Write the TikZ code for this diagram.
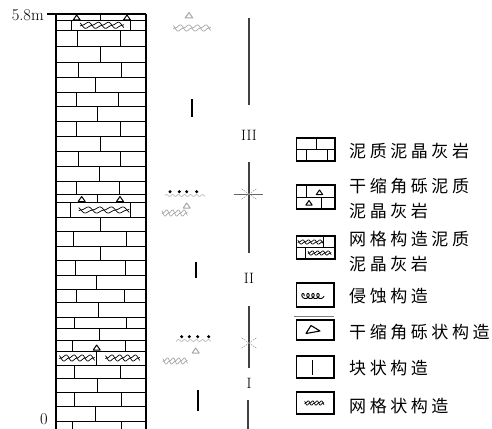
\documentclass[tikz,border=0pt]{standalone}
\usepackage{fontspec}
\newfontfamily\cjk[LetterSpace=21]{Noto Sans CJK SC}

\begin{document}
\begin{tikzpicture}[x=1pt, y=-1pt]
  % Styles
  \tikzset{
    brick/.style={line width=0.7pt},
    wall/.style={line width=1.6pt},
    bar/.style={line width=1.8pt},
    stage/.style={line width=1.8pt, draw=black!75},
    keybox/.style={draw, line width=1.2pt},
    keytext/.style={anchor=west, inner sep=0pt, align=left, font=\cjk\fontsize{17}{25}\selectfont},
    numeral/.style={inner sep=0pt, font=\fontsize{15}{15}\selectfont},
    faint/.style={draw=black!35, line width=0.5pt},
    ray/.style={draw=black!45, line width=0.5pt, dash pattern=on 1.5pt off 1pt},
    netmark/.pic={
      \draw[line width=0.7pt, pic actions] plot[domain=-2:42, samples=61, smooth] (\x, {2.6*sin(\x*18) + 0.9*sin(\x*36)});
      \draw[line width=0.7pt, pic actions] plot[domain=-2:42, samples=61, smooth] (\x, {-2.6*sin(\x*18) + 0.9*sin(\x*36)});
    },
    clast/.pic={\draw[line width=1pt, line join=round, pic actions] (-3.5,0) -- (3.5,0) -- (0,-5) -- cycle;},
    curls/.pic={\draw[line width=0.9pt, pic actions] plot[domain=-90:1350, samples=145, smooth, variable=\t] ({5*\t/360 - 2.3*sin(\t)}, {-2.5*cos(\t)});}
  }
  \useasboundingbox (0,0) rectangle (492,428);

  % Limestone column: courses of bricks
  \foreach \ya/\yb/\xs in {14/20.7/{100}, 20.7/30/{71.7,130.7}, 30/46.7/{77.3,120},
      46.7/62.3/{100}, 62.3/77.7/{78.3,121.7}, 77.7/92.7/{95}, 92.7/106.7/{76,118.3},
      106.7/121/{97.3}, 121/136.7/{76.7,120}, 136.7/151/{100.7}, 151/166/{78.3,120},
      166/181.7/{99.3}, 181.7/194.3/{76,119.3}, 194.3/202.3/{97.3}, 202.3/217/{70.7,130},
      217/231.3/{100}, 231.3/246.3/{73.3,126.7}, 246.3/260/{100}, 260/275/{75,125},
      275/289/{96.7}, 289/302.3/{76,124}, 302.3/317/{98.3}, 317/328/{74,126},
      328/340/{99.3}, 340/351/{72.3,125}, 351/365/{96.7}, 365/378/{74.3,120},
      378/392/{97.3}, 392/406.3/{74,121.7}, 406.3/421.3/{95}, 421.3/432/{72,121.7}}{
    \draw[brick] (56,\yb) -- (146,\yb);
    \foreach \x in \xs \draw[brick] (\x,\ya) -- (\x,\yb);
  }
  \draw[wall] (47,14) -- (146,14);
  \draw[wall] (56,14) -- (56,432);
  \draw[wall] (146,14) -- (146,432);

  % Clasts and network beds in the column
  \pic at (76.7,20) {clast};
  \pic at (127,20) {clast};
  \pic at (82,25.3) {netmark};
  \pic at (81.7,201.5) {clast};
  \pic at (120,201.5) {clast};
  \pic[xscale=1.15] at (81,210) {netmark};
  \pic at (96.7,350) {clast};
  \pic[xscale=0.8] at (61,358) {netmark};
  \pic[xscale=0.78] at (107,358) {netmark};

  % Height marks
  \node[inner sep=0pt, anchor=east, font=\fontsize{16.5}{17}\selectfont] (top) at (44,15.5) {5.8m};
  \node[inner sep=0pt, font=\fontsize{16.5}{17}\selectfont] (base) at (44,419) {0};

  % Structures
  \pic[faint, scale=1.1] at (189,18) {clast};
  \pic[faint, xscale=0.85] at (175,28) {netmark};
  \draw[bar] (191.7,99) -- (191.7,117);
  \foreach \x in {170,179.3,186.7,196.7} \fill (\x,191.7) circle (1.7);
  \draw[faint] plot[domain=165:205, samples=41, smooth] (\x, {195.5+1*sin(\x*60)});
  \pic[faint] at (186.7,208) {clast};
  \pic[faint, xscale=0.58] at (163,213) {netmark};
  \draw[bar] (196,262) -- (196,278);
  \foreach \x in {181.7,189.3,197.7,208.7} \fill (\x,336.7) circle (1.7);
  \draw[faint] plot[domain=176:211, samples=41, smooth] (\x, {340.5+1*sin(\x*60)});
  \pic[faint] at (195.7,353) {clast};
  \pic[faint, xscale=0.56] at (164,361) {netmark};
  \draw[bar] (197.7,390) -- (197.7,410.7);

  % Stages
  \draw[stage] (249,18) -- (249,105);
  \node[numeral] (s3) at (249,135) {III};
  \draw[stage] (249,162) -- (249,253);
  \draw[draw=black!60, line width=0.7pt] (234,194) -- (263,194);
  \foreach \a in {35,145,215,325} \draw[ray] (249,194) -- ++(\a:9);
  \node[numeral] (s2) at (249,278) {II};
  \draw[stage] (249,306) -- (249,368);
  \foreach \a in {35,145,215,325} \draw[ray] (249,343) -- ++(\a:9);
  \node[numeral] (s1) at (249,383) {I};
  \draw[stage] (248,400) -- (248,432);

  % Legend boxes
  \draw[keybox] (296.5,138) rectangle (335,161);
  \draw[brick] (296.5,149.5) -- (335,149.5) (316,138) -- (316,149.5)
    (306,149.5) -- (306,161) (327,149.5) -- (327,161);
  \draw[keybox] (296.5,185) rectangle (335,209);
  \draw[brick] (296.5,197) -- (335,197) (306,185) -- (306,197) (321,197) -- (321,209);
  \pic[scale=0.9] at (319.5,194.5) {clast};
  \pic[scale=0.9] at (309,205) {clast};
  \draw[keybox] (296.5,236) rectangle (335,259);
  \draw[brick] (296.5,247.5) -- (335,247.5) (323,236) -- (323,247.5) (305,247.5) -- (305,259);
  \pic[xscale=0.58, yscale=0.7] at (299,242) {netmark};
  \pic[xscale=0.53, yscale=0.7] at (309,253) {netmark};
  \draw[keybox] (296.5,283) rectangle (334,307);
  \pic at (303,296) {curls};
  \draw[draw=black!50, line width=0.6pt] (294,316) -- (334,316);
  \draw[keybox] (296.5,320) rectangle (334,340);
  \draw[line width=1.1pt, line join=round] (306,333.5) -- (320,331) -- (311,325.5) -- cycle;
  \draw[keybox] (296.5,356) rectangle (334,378);
  \draw[line width=1.1pt] (312.5,360) -- (312.5,375);
  \draw[keybox] (296.5,392) rectangle (334,414);
  \pic[xscale=0.44, yscale=0.7] at (305.5,403) {netmark};

  % Legend text
  \node[keytext] (k1) at (349,151.5) {泥质泥晶灰岩};
  \node[keytext] (k2) at (349,199) {干缩角砾泥质\\泥晶灰岩};
  \node[keytext] (k3) at (349,251.5) {网格构造泥质\\泥晶灰岩};
  \node[keytext] (k4) at (349,296.5) {侵蚀构造};
  \node[keytext] (k5) at (349,332.5) {干缩角砾状构造};
  \node[keytext] (k6) at (349,368) {块状构造};
  \node[keytext] (k7) at (349,406.5) {网格状构造};
\end{tikzpicture}
\end{document}
